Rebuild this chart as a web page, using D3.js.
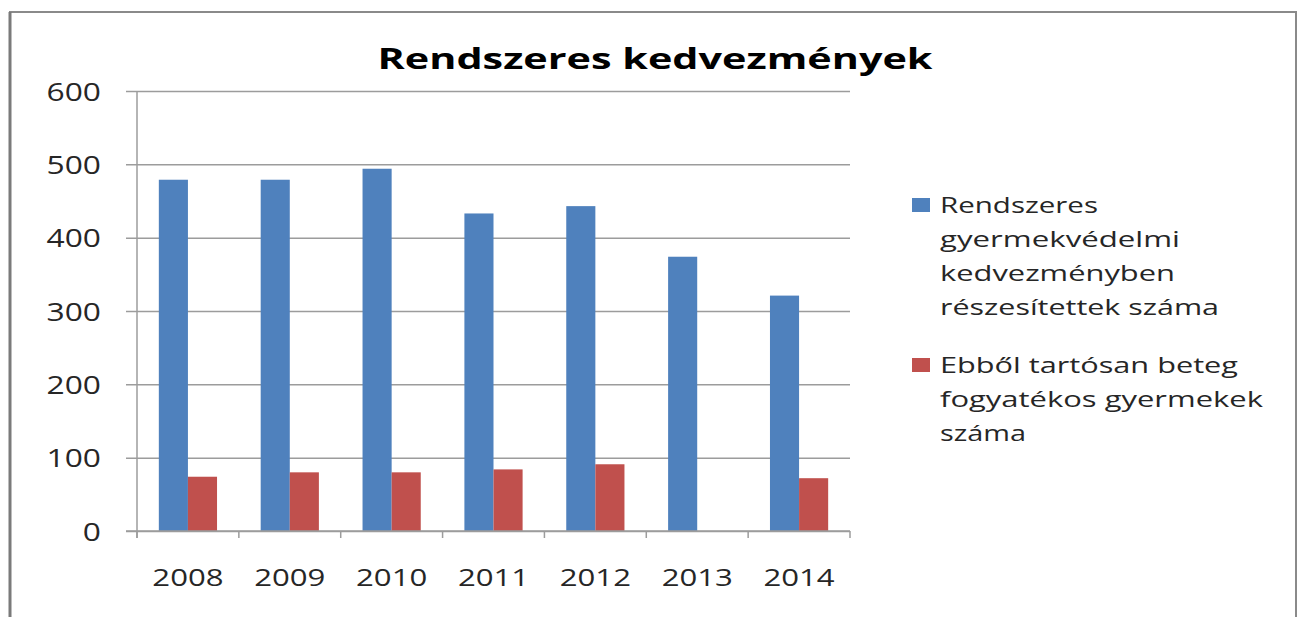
<!DOCTYPE html>
<html>
<head>
<meta charset="utf-8">
<script src="https://cdn.jsdelivr.net/npm/d3@7"></script>
<style>
  body { margin: 0; background: #fff; }
  svg { display: block; }
</style>
</head>
<body>
<svg></svg>
<script>
const WIDTH = 1298;
const HEIGHT = 617;

// data
const years = ["2008", "2009", "2010", "2011", "2012", "2013", "2014"];
const rendszeres = [479, 479, 494, 433, 443, 374, 321];
const tartosBeteg = [74, 80, 80, 84, 91, 0, 72];
const seriesNames = [
    ["Rendszeres", "gyermekvédelmi", "kedvezményben", "részesítettek száma"],
    ["Ebből tartósan beteg", "fogyatékos gyermekek", "száma"]
];
const yTicks = [0, 100, 200, 300, 400, 500, 600];
const title = "Rendszeres kedvezmények";

const COLORS = ["#4f81bd", "#c0504d"];
const GRID = "#9c9c9c";
const FONT = "'Open Sans', 'Liberation Sans', sans-serif";

const PLOT = {left: 137, right: 850, top: 91, bottom: 531};
const LABEL_SX = 1.27; // the picture is squashed, text runs wide

var svg = d3.select("svg")
    .attr("width", WIDTH)
    .attr("height", HEIGHT)
    .attr("viewBox", `0 0 ${WIDTH} ${HEIGHT}`);

// outer frame (no bottom edge in the picture)
svg.append("path")
    .attr("d", `M10,${HEIGHT} L10,12 L1296,12 L1296,${HEIGHT}`)
    .attr("fill", "none")
    .attr("stroke", "#8a8a8a")
    .attr("stroke-width", 2);
svg.append("line")
    .attr("x1", 10).attr("y1", 12).attr("x2", 10).attr("y2", HEIGHT)
    .attr("stroke", "#7a7a7a")
    .attr("stroke-width", 3);

var y = d3.scaleLinear()
    .domain([0, 600])
    .range([PLOT.bottom, PLOT.top]);

var x0 = d3.scaleBand()
    .domain(years)
    .range([PLOT.left, PLOT.right])
    .paddingInner(0)
    .paddingOuter(0);

var x1 = d3.scaleBand()
    .domain([0, 1])
    .range([0, x0.bandwidth()])
    .paddingInner(0)
    .paddingOuter(0.75);

// gridlines + left ticks
var yAxis = svg.append("g")
    .attr("transform", `translate(${PLOT.left},0)`)
    .call(d3.axisLeft(y).tickValues(yTicks).tickSize(-(PLOT.right - PLOT.left)).tickPadding(0));
yAxis.select(".domain").remove();
yAxis.selectAll(".tick line")
    .attr("x1", -11)
    .attr("stroke", GRID)
    .attr("stroke-width", 1.5);
yAxis.selectAll(".tick text")
    .attr("x", -36 / LABEL_SX)
    .attr("dy", "0.36em")
    .attr("transform", `scale(${LABEL_SX},1)`)
    .style("font-family", FONT)
    .style("font-size", "25px")
    .style("fill", "#262626");

// vertical axis line
svg.append("line")
    .attr("x1", PLOT.left).attr("x2", PLOT.left)
    .attr("y1", y(600)).attr("y2", y(0) + 7)
    .attr("stroke", GRID)
    .attr("stroke-width", 1.5);

// bars
var groups = svg.append("g")
    .selectAll("g")
    .data(years)
    .join("g")
    .attr("transform", d => `translate(${x0(d)},0)`);

groups.selectAll("rect")
    .data((d, i) => [rendszeres[i], tartosBeteg[i]])
    .join("rect")
    .attr("x", (d, j) => x1(j))
    .attr("width", x1.bandwidth())
    .attr("y", d => y(d))
    .attr("height", d => y(0) - y(d))
    .attr("fill", (d, j) => COLORS[j]);

// category axis: baseline, boundary ticks, labels
svg.append("line")
    .attr("x1", PLOT.left - 11).attr("x2", PLOT.right)
    .attr("y1", y(0)).attr("y2", y(0))
    .attr("stroke", GRID)
    .attr("stroke-width", 1.5);

var bounds = years.map(d => x0(d)).concat([x0.range()[1]]);
svg.append("g")
    .selectAll("line")
    .data(bounds)
    .join("line")
    .attr("x1", d => d).attr("x2", d => d)
    .attr("y1", y(0)).attr("y2", y(0) + 7)
    .attr("stroke", GRID)
    .attr("stroke-width", 1.5);

svg.append("g")
    .selectAll("text")
    .data(years)
    .join("text")
    .attr("transform", d => `translate(${x0(d) + x0.bandwidth() / 2},586) scale(${LABEL_SX},1)`)
    .attr("text-anchor", "middle")
    .style("font-family", FONT)
    .style("font-size", "24.5px")
    .style("fill", "#262626")
    .text(d => d);

// title
svg.append("text")
    .attr("x", 655)
    .attr("y", 69)
    .attr("text-anchor", "middle")
    .attr("textLength", 555)
    .attr("lengthAdjust", "spacingAndGlyphs")
    .style("font-family", FONT)
    .style("font-weight", "bold")
    .style("font-size", "29px")
    .style("fill", "#000")
    .text(title);

// legend
const LEG_X = 912;
const LEG_LINE = 34;
const legendTop = [213, 373];
const legendWidths = [[158, 240, 235, 279], [298, 323, 86]];

seriesNames.forEach((lines, i) => {
    let g = svg.append("g");
    g.append("rect")
        .attr("x", LEG_X)
        .attr("y", legendTop[i] - 15)
        .attr("width", 18)
        .attr("height", 14)
        .attr("fill", COLORS[i]);
    g.selectAll("text")
        .data(lines)
        .join("text")
        .attr("x", LEG_X + 28)
        .attr("y", (d, k) => legendTop[i] + k * LEG_LINE)
        .attr("textLength", (d, k) => legendWidths[i][k])
        .attr("lengthAdjust", "spacingAndGlyphs")
        .style("font-family", FONT)
        .style("font-size", "22px")
        .style("fill", "#262626")
        .text(d => d);
});
</script>
</body>
</html>
